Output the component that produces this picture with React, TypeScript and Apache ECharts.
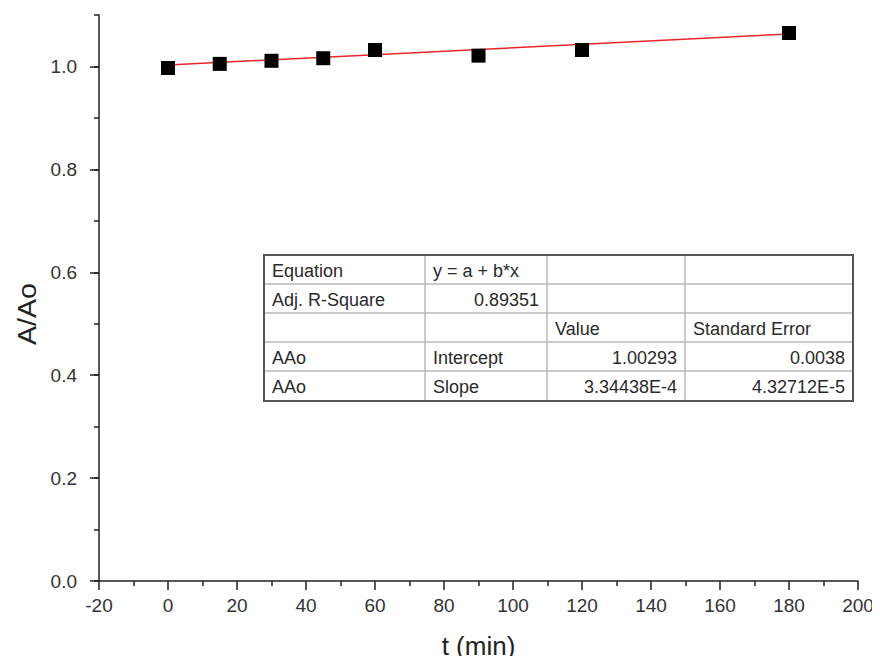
import React, { useEffect, useRef } from "react";
import * as echarts from "echarts";

// Measured ratio A/Ao over time
const timeMin = [0, 15, 30, 45, 60, 90, 120, 180];
const ratioA = [0.997, 1.005, 1.011, 1.016, 1.032, 1.021, 1.032, 1.065];

// Linear fit y = a + b*x
const fitIntercept = 1.00293;
const fitSlope = 3.34438e-4;
const fitRange = [0, 180];

// Axis ticks
const yMajorTicks = [0, 0.2, 0.4, 0.6, 0.8, 1.0];

// Fit summary table
const tableRows = [
  ["Equation", "y = a + b*x", "", ""],
  ["Adj. R-Square", "0.89351", "", ""],
  ["", "", "Value", "Standard Error"],
  ["AAo", "Intercept", "1.00293", "0.0038"],
  ["AAo", "Slope", "3.34438E-4", "4.32712E-5"],
];
const rightAligned = [
  [false, false, false, false],
  [false, true, false, false],
  [false, false, false, false],
  [false, false, true, true],
  [false, false, true, true],
];

const FONT = "Liberation Sans, Arial, sans-serif";

function buildTable() {
  const colX = [264, 425, 547, 685, 853];
  const rowY = [255, 284, 313, 342, 371, 401];
  const els: any[] = [];
  els.push({
    type: "rect",
    shape: { x: colX[0], y: rowY[0], width: colX[4] - colX[0], height: rowY[5] - rowY[0] },
    style: { fill: "#fff", stroke: "none" },
  });
  for (let r = 1; r < rowY.length - 1; r++) {
    els.push({
      type: "line",
      shape: { x1: colX[0], y1: rowY[r], x2: colX[4], y2: rowY[r] },
      style: { stroke: "#b8b8b8", lineWidth: 1.5 },
    });
  }
  for (let c = 1; c < colX.length - 1; c++) {
    els.push({
      type: "line",
      shape: { x1: colX[c], y1: rowY[0], x2: colX[c], y2: rowY[5] },
      style: { stroke: "#b8b8b8", lineWidth: 1.5 },
    });
  }
  els.push({
    type: "rect",
    shape: { x: colX[0], y: rowY[0], width: colX[4] - colX[0], height: rowY[5] - rowY[0] },
    style: { fill: "none", stroke: "#555", lineWidth: 2 },
  });
  tableRows.forEach((row, r) => {
    row.forEach((txt, c) => {
      if (!txt) return;
      const right = rightAligned[r][c];
      els.push({
        type: "text",
        x: right ? colX[c + 1] - 8 : colX[c] + 8,
        y: (rowY[r] + rowY[r + 1]) / 2 + 1,
        style: {
          text: txt,
          fill: "#2a2a2a",
          font: `18px ${FONT}`,
          align: right ? "right" : "left",
          verticalAlign: "middle",
        },
      });
    });
  });
  return els;
}

export default function App() {
  const ref = useRef<HTMLDivElement>(null);
  useEffect(() => {
    if (!ref.current) return;
    const chart = echarts.init(ref.current, undefined, { renderer: "svg" });
    const lineStyle = { color: "#222", width: 1.5 };
    chart.setOption({
      animation: false,
      backgroundColor: "#fff",
      grid: { left: 99, right: 22, top: 15, bottom: 81, containLabel: false },
      xAxis: {
        type: "value",
        min: -20,
        max: 200,
        interval: 20,
        name: "t (min)",
        nameLocation: "middle",
        nameGap: 52,
        nameTextStyle: { fontFamily: FONT, fontSize: 26, color: "#222" },
        axisLine: { show: true, onZero: false, lineStyle },
        axisTick: { show: true, length: 9, lineStyle },
        minorTick: { show: true, splitNumber: 2, length: 5, lineStyle },
        splitLine: { show: false },
        axisLabel: { margin: 15, fontFamily: FONT, fontSize: 19, color: "#333" },
      },
      yAxis: [
        {
          // axis line and the short ticks every 0.1
          type: "value",
          min: 0,
          max: 1.1,
          interval: 0.1,
          axisLine: { show: true, onZero: false, lineStyle },
          axisTick: { show: true, length: 5, lineStyle },
          splitLine: { show: false },
          axisLabel: { show: false },
        },
        {
          // long ticks and labels every 0.2
          type: "value",
          position: "left",
          min: 0,
          max: 1.1,
          axisLine: { show: false, onZero: false },
          axisTick: { show: true, length: 9, lineStyle, customValues: yMajorTicks },
          splitLine: { show: false },
          axisLabel: {
            margin: 22,
            fontFamily: FONT,
            fontSize: 19,
            color: "#333",
            customValues: yMajorTicks,
            formatter: (v: number) => v.toFixed(1),
          },
        },
      ],
      series: [
        {
          type: "line",
          data: fitRange.map((x) => [x, fitIntercept + fitSlope * x]),
          symbol: "none",
          lineStyle: { color: "#e8262a", width: 1.5 },
          z: 2,
        },
        {
          type: "scatter",
          data: timeMin.map((t, i) => [t, ratioA[i]]),
          symbol: "rect",
          symbolSize: 14,
          itemStyle: { color: "#000", opacity: 1 },
          z: 3,
        },
      ],
      graphic: [
        ...buildTable(),
        {
          // y-axis title
          type: "text",
          x: 27,
          y: 314,
          rotation: Math.PI / 2,
          scaleX: 1.1,
          style: {
            text: "A/Ao",
            fill: "#222",
            font: `26px ${FONT}`,
            align: "center",
            verticalAlign: "middle",
          },
        },
      ],
    });
    return () => chart.dispose();
  }, []);
  return <div ref={ref} style={{ width: 880, height: 664, margin: -8 }} />;
}
